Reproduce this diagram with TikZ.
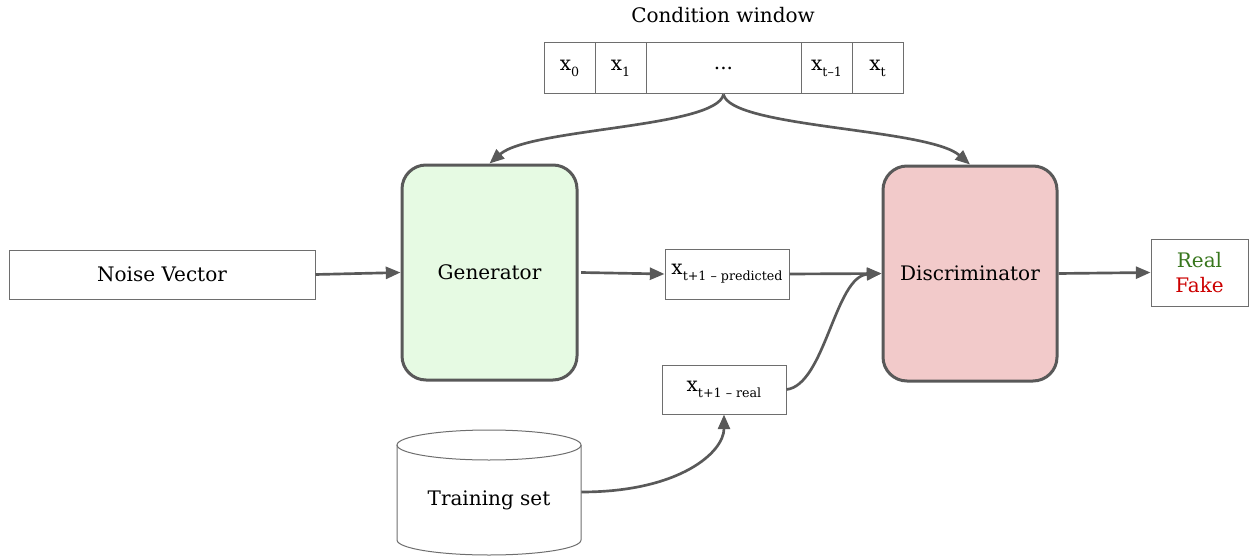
\documentclass[tikz,border=0pt]{standalone}
\usepackage{fontspec}
\setmainfont{DejaVu Serif}
\usetikzlibrary{arrows.meta}

\definecolor{lineGray}{RGB}{89,89,89}
\definecolor{boxGray}{RGB}{110,110,110}
\definecolor{genFill}{RGB}{230,250,227}
\definecolor{discFill}{RGB}{242,202,202}
\definecolor{realGreen}{RGB}{56,118,29}
\definecolor{fakeRed}{RGB}{204,0,0}

\newcommand{\xsub}[1]{x\raisebox{-4.5pt}{\fontsize{9.5}{10}\selectfont #1}}

\tikzset{
  txt/.style={font=\fontsize{15}{18.75}\selectfont},
  cell/.style={draw=boxGray, line width=0.75pt, txt, inner sep=0pt, minimum height=38.25pt},
  block/.style={draw=lineGray, line width=2.25pt, rounded corners=18pt, txt, inner sep=0pt},
  conn/.style={draw=lineGray, line width=2pt, -{Triangle[length=11pt,width=9pt]}},
}

\begin{document}
\begin{tikzpicture}[x=0.75pt,y=0.75pt,yscale=-1,xscale=1]
\useasboundingbox (0,0) rectangle (1255,556);

% Text Node
\node[txt] (title) at (723,15) {Condition window};
% Condition window cells
\node[cell, minimum width=38.25pt] (c0) at (569.5,68.5) {\xsub{0}};
\node[cell, minimum width=38.25pt] (c1) at (620.5,68.5) {\xsub{1}};
\node[cell, minimum width=116.25pt] (dots) at (723.5,68.5) {...};
\node[cell, minimum width=38.25pt] (ctm) at (826.5,68.5) {\xsub{t–1}};
\node[cell, minimum width=38.25pt] (ct) at (877.5,68.5) {\xsub{t}};

% Blocks
\node[block, fill=genFill, minimum width=131.25pt, minimum height=161.25pt] (gen) at (489.5,272.5) {Generator};
\node[block, fill=discFill, minimum width=130.5pt, minimum height=161.25pt] (disc) at (970,273.5) {Discriminator};

% Boxes
\node[cell, minimum width=229.5pt, minimum height=36.75pt] (noise) at (162,274.5) {Noise Vector};
\node[cell, minimum width=93pt, minimum height=37.5pt] (pred) at (727,274) {\xsub{t+1 – predicted}};
\node[cell, minimum width=93pt, minimum height=36.75pt] (real) at (724,389.5) {\raisebox{-3pt}{\xsub{t+1 – real}}};
\node[cell, minimum width=72.75pt, minimum height=50.25pt, align=center] (rf) at (1199.5,272.5) {\textcolor{realGreen}{Real}\\\textcolor{fakeRed}{Fake}};

% Training set (cylinder)
\node[txt, minimum width=138pt, minimum height=75pt, inner sep=0pt] (train) at (489,500) {Training set};
\draw[boxGray, line width=0.75pt] (489,445) ellipse [x radius=92, y radius=15];
\draw[boxGray, line width=0.75pt] (397,445) -- (397,540) arc[start angle=180, end angle=0, x radius=92, y radius=15] -- (581,445);

% Connectors
\draw[conn] (dots.south) .. controls (716,128) and (530,128) .. (gen.north);
\draw[conn] (dots.south) .. controls (731,128) and (928,128) .. (disc.north);
\draw[conn] (noise.east) -- (gen.west);
\draw[conn] ([xshift=2pt]gen.east) -- (pred.west);
\draw[conn] (pred.east) -- (disc.west);
\draw[conn] (real.east) .. controls (825,385) and (835,276) .. (disc.west);
\draw[conn] ([yshift=-6pt]train.east) .. controls (680,492) and (724,452) .. (real.south);
\draw[conn] (disc.east) -- (rf.west);

\end{tikzpicture}
\end{document}
